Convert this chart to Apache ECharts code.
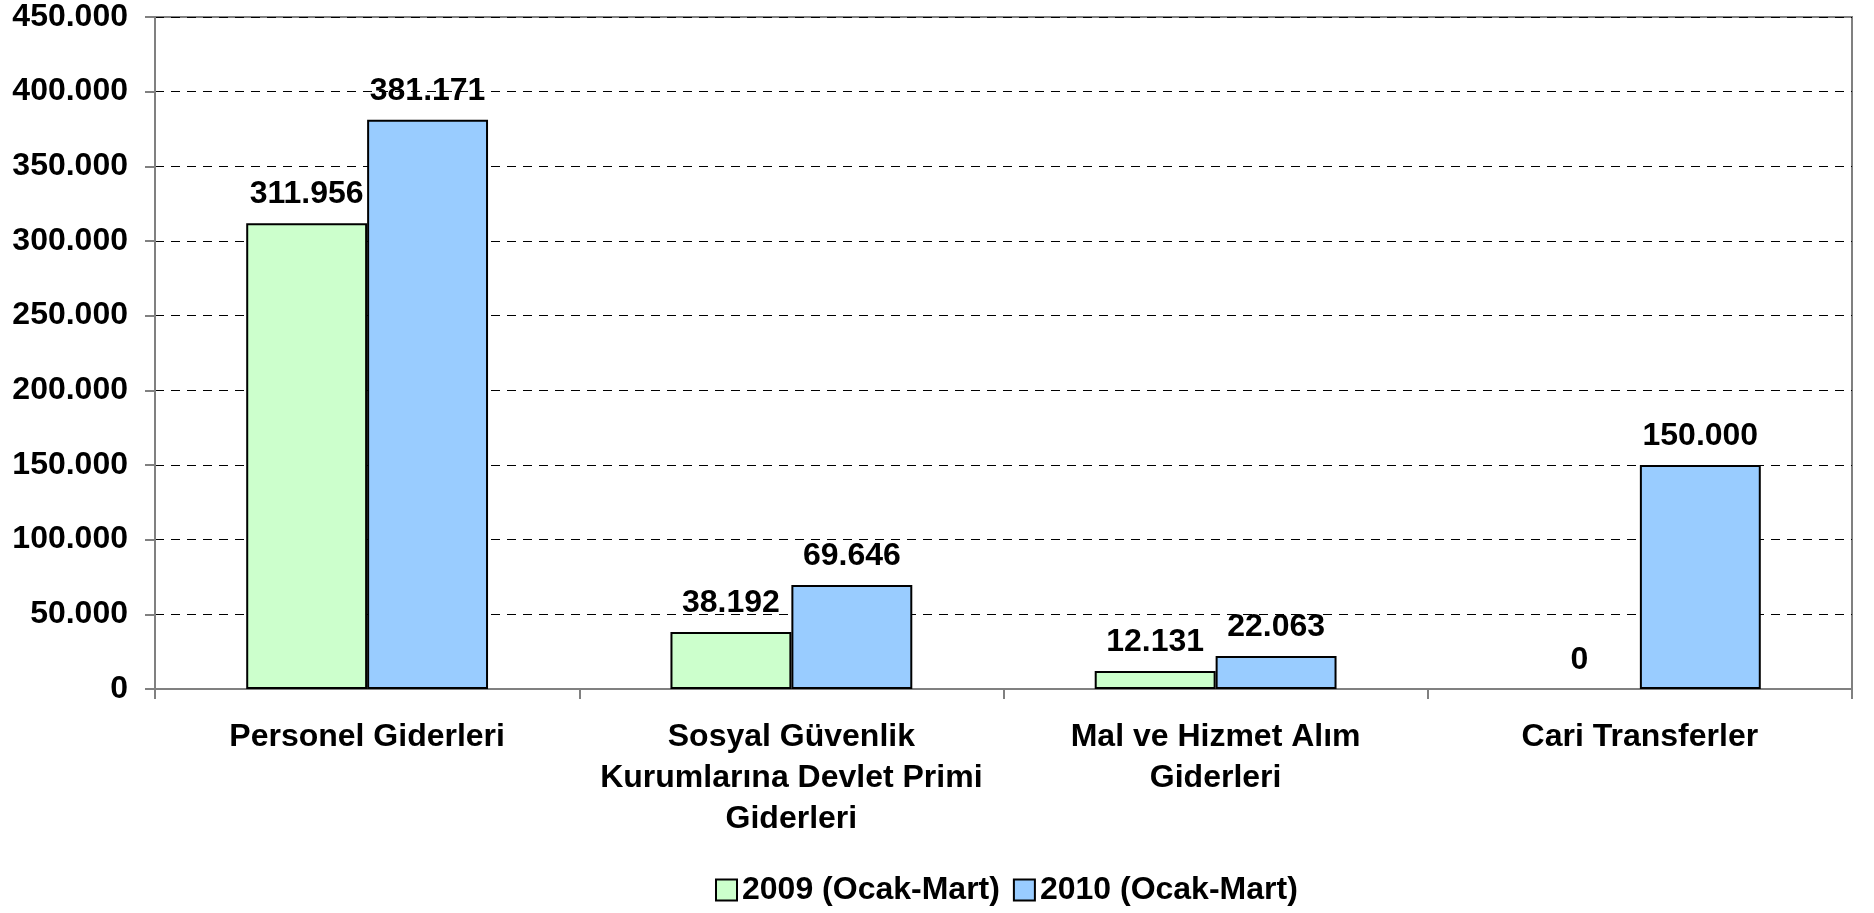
<!DOCTYPE html>
<html>
<head>
<meta charset="utf-8">
<script src="https://cdn.jsdelivr.net/npm/echarts@6/dist/echarts.min.js"></script>
<style>
  html, body { margin: 0; padding: 0; background: #fff; }
  #chart { width: 1874px; height: 913px; }
</style>
</head>
<body>
<div id="chart"></div>
<script>
const categories = [
  'Personel Giderleri',
  'Sosyal Güvenlik\nKurumlarına Devlet Primi\nGiderleri',
  'Mal ve Hizmet Alım\nGiderleri',
  'Cari Transferler'
]
const seriesNames = ['2009 (Ocak-Mart)', '2010 (Ocak-Mart)']
const values2009 = [311956, 38192, 12131, 0]
const values2010 = [381171, 69646, 22063, 150000]
const colors = ['#CCFFCC', '#99CCFF']

const font = 'Liberation Sans, Arial, sans-serif'

// 381171 -> "381.171"
function fmt(v) {
  return String(v).replace(/\B(?=(\d{3})+(?!\d))/g, '.')
}

const chart = echarts.init(document.getElementById('chart'))

function barSeries(name, data, color) {
  return {
    name: name,
    type: 'bar',
    // a zero bar has no visible outline in the original
    data: data.map(v => ({ value: v, itemStyle: { borderWidth: v === 0 ? 0 : 2 } })),
    barGap: '0%',
    barCategoryGap: '43%',
    itemStyle: { color: color, borderColor: '#000', borderWidth: 2 },
    label: {
      show: true,
      position: 'top',
      distance: 13,
      color: '#000',
      fontFamily: font,
      fontWeight: 'bold',
      fontSize: 32,
      formatter: p => fmt(p.value)
    },
    animation: false
  }
}

chart.setOption({
  backgroundColor: '#fff',
  grid: {
    left: 155,
    right: 22,
    top: 17,
    bottom: 224,
    show: true,
    borderColor: '#808080',
    borderWidth: 2
  },
  legend: {
    bottom: 2,
    left: 710,
    itemWidth: 21,
    itemHeight: 21,
    itemGap: 13,
    textStyle: { color: '#000', fontFamily: font, fontWeight: 'bold', fontSize: 32 },
    data: seriesNames.map((n, i) => ({
      name: n,
      icon: 'rect',
      itemStyle: { color: colors[i], borderColor: '#000', borderWidth: 2 }
    }))
  },
  xAxis: {
    type: 'category',
    data: categories,
    axisLine: { lineStyle: { color: '#808080', width: 2 } },
    axisTick: { show: true, length: 10, lineStyle: { color: '#808080', width: 2 } },
    axisLabel: {
      interval: 0,
      color: '#000',
      fontFamily: font,
      fontWeight: 'bold',
      fontSize: 32,
      lineHeight: 41,
      margin: 28
    }
  },
  yAxis: {
    type: 'value',
    min: 0,
    max: 450000,
    interval: 50000,
    axisLine: { show: true, lineStyle: { color: '#808080', width: 2 } },
    axisTick: { show: true, length: 10, lineStyle: { color: '#808080', width: 2 } },
    splitLine: { lineStyle: { color: '#000', type: [9, 7], width: 1 } },
    axisLabel: {
      color: '#000',
      fontFamily: font,
      fontWeight: 'bold',
      fontSize: 32,
      margin: 27,
      formatter: v => fmt(v)
    }
  },
  series: [
    barSeries(seriesNames[0], values2009, colors[0]),
    barSeries(seriesNames[1], values2010, colors[1])
  ]
})
</script>
</body>
</html>
